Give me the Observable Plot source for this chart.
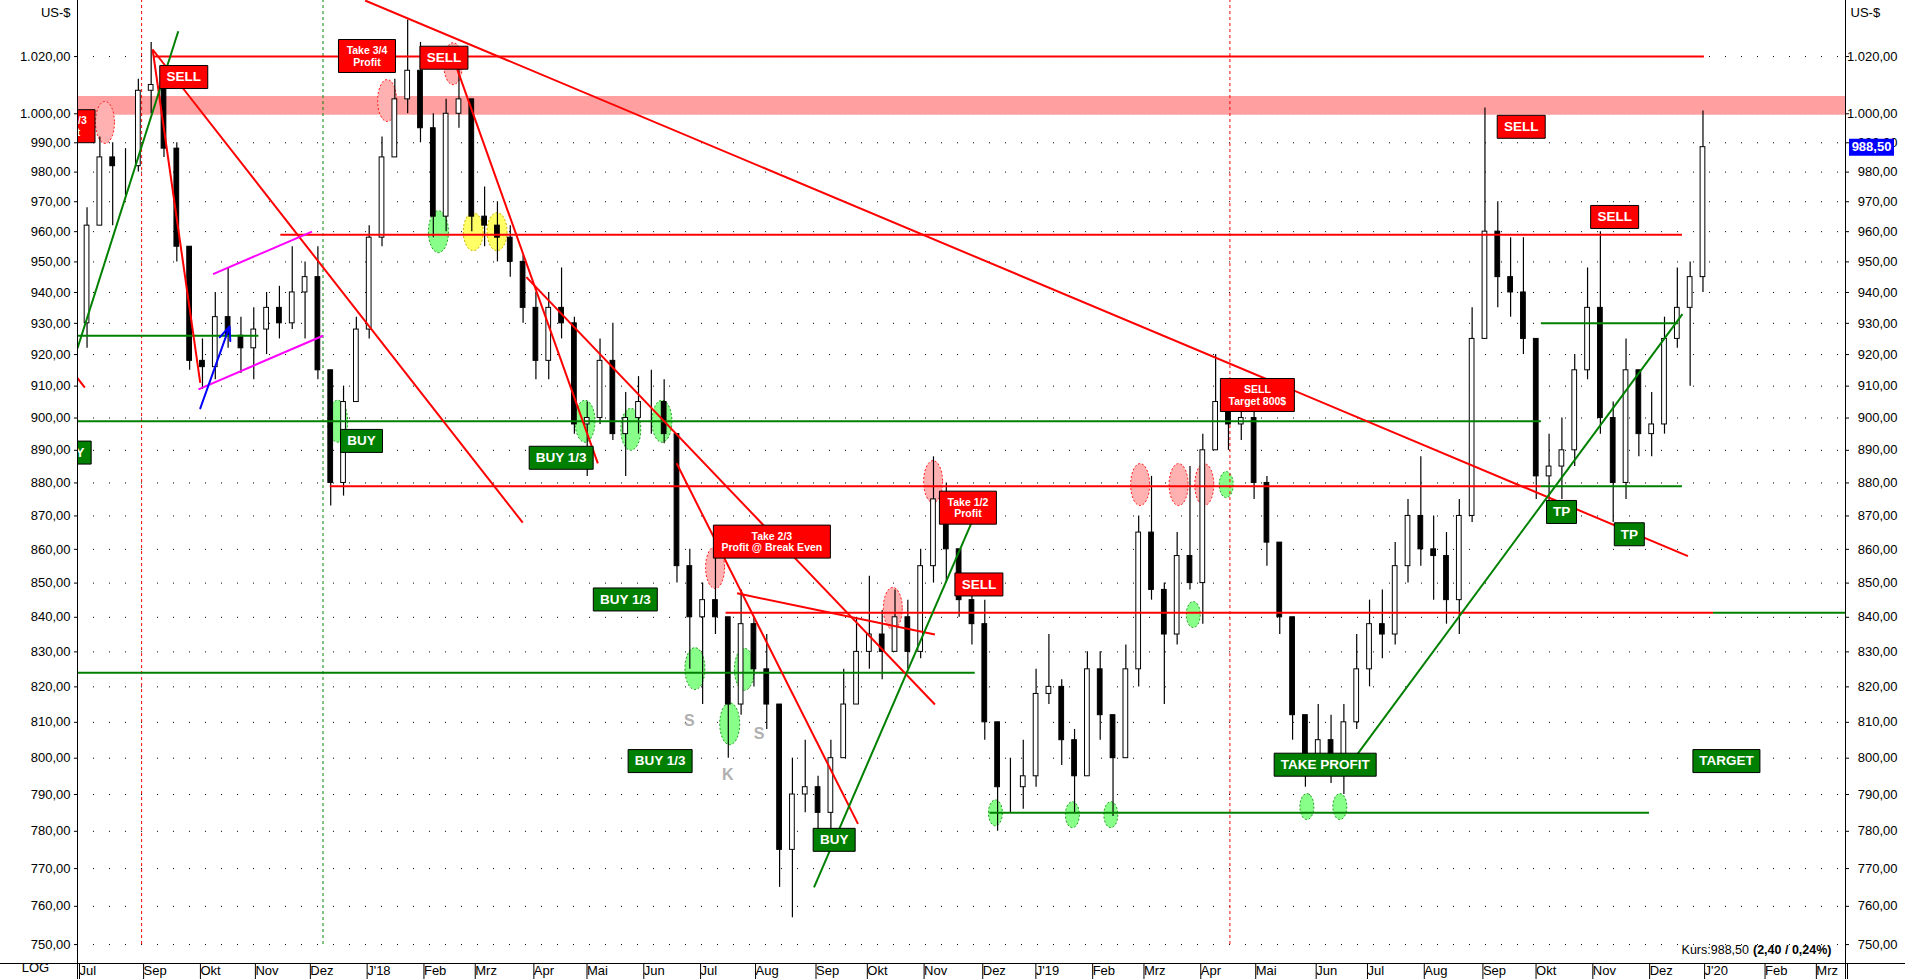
<!DOCTYPE html>
<html><head><meta charset="utf-8">
<script src="https://cdn.jsdelivr.net/npm/d3@7"></script>
<script src="https://cdn.jsdelivr.net/npm/@observablehq/plot@0.6"></script>
<style>html,body{margin:0;padding:0;background:#fff;overflow:hidden}svg{display:block}</style>
</head><body><div id="chart"></div>
<script>
// ---------- DATA ----------
const firstOpen = 930;
const closes = [
 962, 985, 982, 982, 1008, 1010, 988, 955, 918, 916,
 932, 926, 922, 928, 935, 930, 940, 945, 915, 880,
 905, 928, 958, 985, 1005, 1015, 995, 965, 1000, 1005,
 965, 962, 958, 950, 935, 918, 935, 930, 898, 900,
 918, 895, 900, 905, 905, 895, 855, 840, 845, 840,
 815, 838, 825, 815, 775, 790, 792, 785, 800, 815,
 830, 835, 830, 840, 830, 855, 875, 860, 845, 838,
 810, 792, 792, 795, 818, 820, 805, 795, 825, 812,
 800, 825, 865, 848, 835, 858, 850, 890, 905, 898,
 900, 880, 862, 840, 812, 800, 805, 800, 810, 825,
 838, 835, 855, 870, 860, 858, 845, 870, 925, 960,
 945, 940, 925, 882, 885, 890, 915, 935, 900, 880,
 915, 895, 898, 925, 935, 945, 988.5];
const highs = [
 968, 992, 990, 988, 1012, 1025, 1015, 990, 955, 925,
 940, 948, 932, 935, 940, 942, 955, 950, 955, 915,
 910, 932, 962, 992, 1012, 1033, 1025, 1000, 1005, 1022,
 1005, 975, 970, 962, 952, 940, 940, 948, 932, 905,
 925, 930, 908, 913, 915, 912, 895, 860, 850, 865,
 840, 848, 840, 835, 815, 800, 805, 795, 805, 825,
 840, 852, 842, 848, 845, 860, 888, 880, 858, 850,
 845, 810, 800, 805, 825, 835, 822, 808, 830, 830,
 812, 832, 870, 882, 850, 865, 885, 895, 920, 910,
 912, 905, 882, 862, 840, 812, 815, 812, 815, 835,
 845, 848, 862, 875, 888, 870, 865, 875, 935, 1002,
 970, 958, 958, 925, 895, 900, 920, 948, 960, 905,
 925, 915, 908, 932, 948, 950, 1001];
const lows = [
 922, 962, 962, 972, 980, 1000, 985, 950, 915, 909,
 912, 922, 914, 912, 920, 925, 928, 925, 912, 873,
 876, 905, 925, 955, 985, 1000, 990, 958, 960, 995,
 960, 955, 950, 945, 930, 912, 912, 925, 895, 882,
 898, 893, 882, 895, 895, 892, 850, 825, 815, 835,
 800, 812, 820, 808, 765, 757, 785, 778, 780, 800,
 815, 825, 822, 830, 825, 828, 850, 850, 840, 832,
 805, 780, 785, 786, 792, 815, 798, 785, 795, 805,
 784, 800, 820, 845, 815, 832, 848, 838, 890, 890,
 893, 875, 855, 835, 805, 792, 795, 793, 790, 808,
 820, 828, 832, 850, 855, 845, 838, 835, 868, 925,
 935, 932, 920, 875, 872, 875, 885, 912, 895, 868,
 875, 888, 888, 895, 922, 910, 940];

const yTicks = [750,760,770,780,790,800,810,820,830,840,850,860,870,880,890,900,910,920,930,940,950,960,970,980,990,1000,1020];
const monthTickDates = ["2017-07-28","2017-09-01","2017-10-02","2017-11-01","2017-12-01","2018-01-01","2018-02-01","2018-03-01","2018-04-02","2018-05-01","2018-06-01","2018-07-02","2018-08-01","2018-09-03","2018-10-01","2018-11-01","2018-12-03","2019-01-01","2019-02-01","2019-03-01","2019-04-01","2019-05-01","2019-06-03","2019-07-01","2019-08-01","2019-09-02","2019-10-01","2019-11-01","2019-12-02","2020-01-01","2020-02-03","2020-03-02","2020-03-19"];
const monthLabels = ["Jul","Sep","Okt","Nov","Dez","J'18","Feb","Mrz","Apr","Mai","Jun","Jul","Aug","Sep","Okt","Nov","Dez","J'19","Feb","Mrz","Apr","Mai","Jun","Jul","Aug","Sep","Okt","Nov","Dez","J'20","Feb","Mrz",""];

const resistanceZone = {low: 999.5, high: 1006};
const redLevels = [
 {from:"2017-09-08", to:"2020-01-02", price:1020},
 {from:"2017-11-16", to:"2019-12-21", price:959},
 {from:"2017-12-13", to:"2019-10-05", price:879},
 {from:"2018-07-17", to:"2020-01-07", price:841.3}];
const greenLevels = [
 {from:"2017-07-28", to:"2017-11-04", price:926},
 {from:"2017-07-28", to:"2019-10-05", price:899},
 {from:"2017-07-28", to:"2018-11-30", price:824},
 {from:"2020-01-07", to:"2020-03-19", price:841.3},
 {from:"2018-12-08", to:"2019-12-03", price:785},
 {from:"2019-10-05", to:"2019-12-19", price:930},
 {from:"2019-10-05", to:"2019-12-21", price:879}];
const redTrends = [
 {from:"2017-07-28", p0:912.5, to:"2017-08-01", p1:909.5},
 {from:"2017-09-07", p0:1022.5, to:"2017-10-03", p1:911},
 {from:"2017-09-07", p0:1022.5, to:"2018-03-28", p1:868},
 {from:"2018-01-01", p0:1040, to:"2019-12-24", p1:858},
 {from:"2018-02-20", p0:1016, to:"2018-05-08", p1:886},
 {from:"2018-03-30", p0:945, to:"2018-11-08", p1:815},
 {from:"2018-06-20", p0:886, to:"2018-09-27", p1:782},
 {from:"2018-07-23", p0:847, to:"2018-11-08", p1:835}];
const greenTrends = [
 {from:"2017-07-28", p0:922, to:"2017-09-21", p1:1029},
 {from:"2018-09-03", p0:765, to:"2018-11-28", p1:868},
 {from:"2019-06-25", p0:800, to:"2019-12-21", p1:933}];
const magentaTrends = [
 {from:"2017-10-10", p0:946, to:"2017-12-03", p1:960},
 {from:"2017-10-02", p0:909, to:"2017-12-09", p1:926}];
const blueArrow = [{from:"2017-10-03", p0:903, to:"2017-10-19", p1:929}];
const redMarkers = ["2017-09-01","2019-04-18"];
const greenMarkers = ["2017-12-09"];

const pinkZones = [
 {date:"2017-08-12", price:997}, {date:"2018-01-13", price:1004.6}, {date:"2018-02-18", price:1017.5},
 {date:"2018-07-11", price:854.6}, {date:"2018-10-16", price:842.6}, {date:"2018-11-07", price:880.4},
 {date:"2019-02-28", price:879.5}, {date:"2019-03-21", price:879.5}, {date:"2019-04-04", price:879.5}];
const greenZones = [
 {date:"2017-12-17", price:899}, {date:"2018-02-10", price:960}, {date:"2018-05-01", price:899},
 {date:"2018-05-26", price:896.5}, {date:"2018-06-12", price:899}, {date:"2018-06-30", price:825.2},
 {date:"2018-07-19", price:809.6}, {date:"2018-07-27", price:825}];
const greenSmallZones = [
 {date:"2018-12-11", price:785}, {date:"2019-01-22", price:784.5}, {date:"2019-02-12", price:784.5},
 {date:"2019-03-29", price:840.8}, {date:"2019-04-16", price:879.5}, {date:"2019-05-30", price:786.7},
 {date:"2019-06-17", price:786.7}];
const yellowZones = [{date:"2018-03-01", price:960}, {date:"2018-03-14", price:960}];

const redNotes = [
 {date:"2017-07-22", price:995.7, text:"Take 1/3\nProfit"},
 {date:"2017-09-24", price:1012.8, text:"SELL"},
 {date:"2018-01-02", price:1020.2, text:"Take 3/4\nProfit"},
 {date:"2018-02-13", price:1019.6, text:"SELL"},
 {date:"2018-08-11", price:862.3, text:"Take 2/3\nProfit @ Break Even"},
 {date:"2018-11-26", price:872.5, text:"Take 1/2\nProfit"},
 {date:"2018-12-02", price:849.6, text:"SELL"},
 {date:"2019-05-03", price:907.2, text:"SELL\nTarget 800$"},
 {date:"2019-09-24", price:995.5, text:"SELL"},
 {date:"2019-11-14", price:964.9, text:"SELL"}];
const greenNotes = [
 {date:"2017-07-24", price:889.3, text:"BUY"},
 {date:"2017-12-30", price:892.9, text:"BUY"},
 {date:"2018-04-18", price:887.7, text:"BUY 1/3"},
 {date:"2018-05-23", price:845.2, text:"BUY 1/3"},
 {date:"2018-06-11", price:799.2, text:"BUY 1/3"},
 {date:"2018-09-14", price:777.7, text:"BUY"},
 {date:"2019-06-09", price:798.2, text:"TAKE PROFIT"},
 {date:"2019-10-16", price:871.2, text:"TP"},
 {date:"2019-11-22", price:864.5, text:"TP"},
 {date:"2020-01-14", price:799.2, text:"TARGET"}];
const grayLetters = [
 {date:"2018-06-27", price:810.5, text:"S"},
 {date:"2018-07-18", price:795.5, text:"K"},
 {date:"2018-08-04", price:806.8, text:"S"}];
const lastPrice = 988.5;
const quoteText = "Kurs:988,50";
const changeText = "(2,40 / 0,24%)";

// ---------- BUILD ----------
const D = s => new Date(s);
const xDomain = [D("2017-07-28"), D("2020-03-19")];
const yDomain = [745.1, 1040];
const weeks = d3.utcMonday.range(D("2017-07-31"), D("2020-01-04"));
const candles = weeks.map((w, i) => ({
  date: w, open: i ? closes[i-1] : firstOpen, high: highs[i], low: lows[i], close: closes[i]}));
const loc = d3.formatLocale({decimal: ",", thousands: ".", grouping: [3], currency: ["", ""]});
const fmt = loc.format(",.2f");
const labelMap = new Map(monthTickDates.map((d, i) => [+D(d), monthLabels[i]]));

const FONT = "'Liberation Sans', Arial, sans-serif";
const ctx = document.createElement("canvas").getContext("2d");
function textWidth(t, font) { ctx.font = font; return Math.max(...t.split("\n").map(l => ctx.measureText(l).width)); }
function boxSymbol(w, h) { return {draw(c) { c.rect(-w/2, -h/2, w, h); }}; }
function ellipseSymbol(rx, ry) {
  const k = 0.5523;
  return {draw(c) {
    c.moveTo(rx, 0);
    c.bezierCurveTo(rx, ry*k, rx*k, ry, 0, ry);
    c.bezierCurveTo(-rx*k, ry, -rx, ry*k, -rx, 0);
    c.bezierCurveTo(-rx, -ry*k, -rx*k, -ry, 0, -ry);
    c.bezierCurveTo(rx*k, -ry, rx, -ry*k, rx, 0);
    c.closePath();
  }};
}
function noteMarks(notes, fill) {
  return notes.flatMap(n => {
    const two = n.text.includes("\n");
    const fs = two ? 10.5 : 13.5;
    const w = Math.round(textWidth(n.text, `bold ${fs}px ${FONT}`) + (two ? 16 : 13));
    const h = two ? 33 : 23;
    return [
      Plot.dot([n], {x: d => D(d.date), y: "price", symbol: boxSymbol(w, h), fill, stroke: "black", strokeWidth: 1, clip: true}),
      Plot.text([n], {x: d => D(d.date), y: "price", text: "text", fill: "white", fontWeight: "bold", fontSize: fs, lineHeight: two ? 1.12 : 1, clip: true})
    ];
  });
}
const seg = {x1: d => D(d.from), y1: "p0", x2: d => D(d.to), y2: "p1", clip: true};
const lvl = {y: "price", x1: d => D(d.from), x2: d => D(d.to), clip: true};
const boldW = textWidth(changeText, `bold 12.5px ${FONT}`);

const chart = Plot.plot({
  width: 1905, height: 979,
  marginLeft: 77, marginRight: 60, marginTop: 0, marginBottom: 16,
  x: {type: "utc", domain: xDomain},
  y: {type: "log", domain: yDomain},
  style: {fontFamily: FONT, fontSize: "13px", color: "black", background: "white", overflow: "visible"},
  marks: [
    Plot.ruleY(yTicks, {stroke: "black", strokeDasharray: "1,15", strokeWidth: 1}),
    Plot.rect([resistanceZone], {x1: () => xDomain[0], x2: () => xDomain[1], y1: "low", y2: "high", fill: "#ff9f9f"}),
    Plot.dot(pinkZones, {x: d => D(d.date), y: "price", symbol: ellipseSymbol(9.5, 21), fill: "#ffb0b0", stroke: "#ff2020", strokeWidth: 1, strokeDasharray: "2,2"}),
    Plot.dot(greenZones, {x: d => D(d.date), y: "price", symbol: ellipseSymbol(10, 21), fill: "#88ff88", stroke: "#20a020", strokeWidth: 1, strokeDasharray: "2,2"}),
    Plot.dot(greenSmallZones, {x: d => D(d.date), y: "price", symbol: ellipseSymbol(7, 13), fill: "#88ff88", stroke: "#20a020", strokeWidth: 1, strokeDasharray: "2,2"}),
    Plot.dot(yellowZones, {x: d => D(d.date), y: "price", symbol: ellipseSymbol(10, 19), fill: "#ffff66", stroke: "#d0b000", strokeWidth: 1, strokeDasharray: "2,2"}),
    Plot.ruleX(redMarkers, {x: d => D(d), y1: 750, y2: yDomain[1], stroke: "#ff0000", strokeDasharray: "3,3"}),
    Plot.ruleX(greenMarkers, {x: d => D(d), y1: 750, y2: yDomain[1], stroke: "#008000", strokeDasharray: "3,3"}),
    // candles
    Plot.ruleX(candles, {x: d => d3.utcHour.offset(d.date, 53), y1: "low", y2: "high", stroke: "black", strokeWidth: 1.2}),
    Plot.rect(candles, {x1: d => d3.utcHour.offset(d.date, 22), x2: d => d3.utcHour.offset(d.date, 84),
      y1: "open", y2: "close", fill: d => d.close >= d.open ? "white" : "black", stroke: "black", strokeWidth: 1}),
    // lines
    Plot.ruleY(redLevels, {...lvl, stroke: "#ff0000", strokeWidth: 2}),
    Plot.ruleY(greenLevels, {...lvl, stroke: "#008000", strokeWidth: 2}),
    Plot.link(redTrends, {...seg, stroke: "#ff0000", strokeWidth: 2}),
    Plot.link(greenTrends, {...seg, stroke: "#008000", strokeWidth: 2}),
    Plot.link(magentaTrends, {...seg, stroke: "#ff00ff", strokeWidth: 2}),
    Plot.arrow(blueArrow, {...seg, stroke: "#0000ff", strokeWidth: 2, headLength: 11, headAngle: 45}),
    // letters and notes
    Plot.text(grayLetters, {x: d => D(d.date), y: "price", text: "text", fill: "#b0b0b0", fontWeight: "bold", fontSize: 16}),
    ...noteMarks(redNotes, "#ff0000"),
    ...noteMarks(greenNotes, "#008000"),
    // axes
    Plot.ruleX([xDomain[0], xDomain[1]], {x: d => d, stroke: "black", insetBottom: -16}),
    Plot.ruleY([yDomain[0]], {y: d => d, stroke: "black", insetLeft: -77, insetRight: -60}),
    Plot.axisY(yTicks, {anchor: "left", tickFormat: fmt, tickSize: 3, tickPadding: 4, fontSize: 13}),
    Plot.axisY(yTicks, {anchor: "right", tickFormat: fmt, tickSize: 3, tickPadding: 49, textAnchor: "end", fontSize: 13}),
    Plot.axisX(monthTickDates.map(D), {anchor: "bottom", tickFormat: d => labelMap.get(+d), tickSize: 16, tickPadding: -14,
      textAnchor: "start", dx: 2, lineAnchor: "top", fontSize: 13}),
    Plot.dot([lastPrice], {x: () => xDomain[1], y: d => d, dx: 26, symbol: boxSymbol(45, 17), fill: "#0000ff", stroke: "none"}),
    Plot.text([lastPrice], {x: () => xDomain[1], y: d => d, dx: 26, text: d => fmt(d), fill: "white", fontWeight: "bold", fontSize: 13}),
    Plot.text(["US-$"], {frameAnchor: "top-left", text: d => d, dx: -7, dy: 7, textAnchor: "end", fontSize: 13}),
    Plot.text(["US-$"], {frameAnchor: "top-right", text: d => d, dx: 5, dy: 7, textAnchor: "start", fontSize: 13}),
    Plot.text(["LOG"], {frameAnchor: "bottom-left", text: d => d, dx: -42, dy: 8, textAnchor: "middle", fontSize: 13}),
    Plot.text([changeText], {frameAnchor: "bottom-right", text: d => d, dx: -14, dy: -10, textAnchor: "end", fontWeight: "bold", fontSize: 12.5}),
    Plot.text([quoteText], {frameAnchor: "bottom-right", text: d => d, dx: -14 - boldW - 4, dy: -10, textAnchor: "end", fontSize: 12.5})
  ]
});
document.getElementById("chart").appendChild(chart);
</script>
</body></html>
